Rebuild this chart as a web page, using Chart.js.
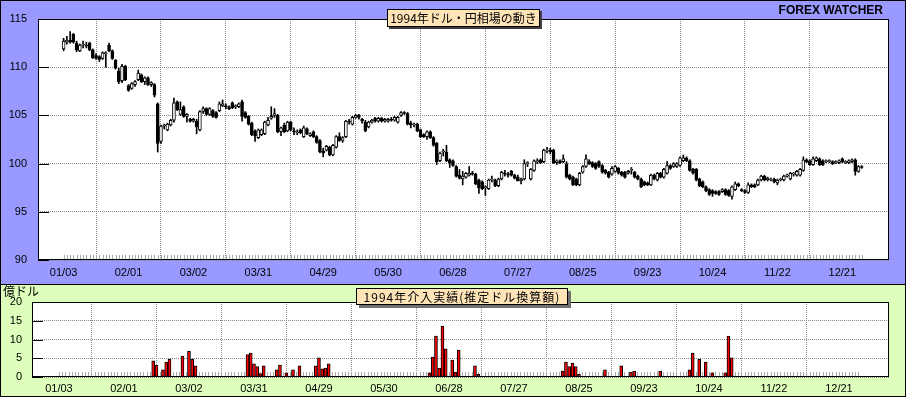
<!DOCTYPE html>
<html>
<head>
<meta charset="utf-8">
<script src="https://cdn.jsdelivr.net/npm/chart.js@4.4.0/dist/chart.umd.min.js"></script>
<style>
  body { margin: 0; width: 906px; height: 397px; overflow: hidden; position: relative; }
  .panel { position: absolute; left: 0; width: 906px; box-sizing: border-box; border: 1px solid #000; }
  #topPanel { top: 0; height: 285px; background: #9999ff; }
  #bottomPanel { top: 284px; height: 113px; background: #ddffbb; }
  canvas { position: absolute; left: 0; }
  .titlebox {
    position: absolute; box-sizing: border-box; border: 1px solid #000; background: #ffe4b8;
    font-family: "Noto Sans CJK JP", "Liberation Sans", sans-serif; font-size: 12px; color: #000;
    text-align: center; white-space: nowrap; z-index: 2;
  }
  #title1 { left: 387px; top: 9px; width: 153px; height: 18px; line-height: 16px; box-shadow: 2px 2px 0 #404040; }
  #title2 { left: 356px; top: 288px; width: 212px; height: 17px; line-height: 15px; letter-spacing: 1px; box-shadow: 3px 3px 0 #707070; }
  #brand { position: absolute; right: 23px; top: 3px; font: bold 12px "Liberation Sans", Arial, sans-serif; z-index: 2; }
  #unit { position: absolute; left: 3px; top: 282px; font: 12px "Noto Sans CJK JP", sans-serif; z-index: 2; }
</style>
</head>
<body>
<div class="panel" id="topPanel"></div>
<div class="panel" id="bottomPanel"></div>
<canvas id="priceChart" width="906" height="285" style="top:0"></canvas>
<canvas id="interChart" width="906" height="112" style="top:285px"></canvas>
<div class="titlebox" id="title1">1994年ドル・円相場の動き</div>
<div class="titlebox" id="title2">1994年介入実績(推定ドル換算額)</div>
<div id="brand">FOREX WATCHER</div>
<div id="unit">億ドル</div>
<script>
// 1994年 日次四本値 (営業日 0〜246)
const open = [
  111.9,112.6,112.8,113.4,112.5,111.7,112.3,112.3,112.5,111.8,
  111.2,111.1,110.9,111.4,112.3,111.7,110.7,109.6,108.6,110.1,
  108.1,107.8,108.2,108.7,109.2,108.5,108.9,108.2,108.2,106.2,
  102.3,103.9,103.5,104.0,104.5,106.4,105.1,105.9,104.9,104.6,
  104.4,104.4,103.5,105.4,105.7,105.1,105.5,105.3,105.5,106.0,
  106.0,105.9,106.3,105.9,105.9,106.4,105.3,104.9,104.2,103.4,
  102.7,103.0,103.1,104.0,104.7,105.0,105.0,103.3,104.0,103.4,
  104.3,103.4,103.2,103.5,102.8,103.6,102.9,103.3,102.8,102.4,
  101.3,101.4,101.7,100.9,101.7,102.8,102.4,102.8,104.4,104.1,
  104.8,105.0,104.6,104.3,103.8,104.3,104.7,104.4,104.7,104.4,
  104.4,104.6,104.5,104.3,105.0,105.3,105.2,104.2,104.0,104.1,
  103.5,103.0,102.8,103.3,102.7,102.1,100.3,101.2,101.2,100.4,
  100.3,99.7,98.8,98.4,98.6,98.8,99.0,98.9,98.3,98.1,
  97.5,97.4,98.3,98.3,97.7,98.4,99.0,98.9,99.2,98.8,
  98.6,98.2,98.4,100.0,98.4,99.3,100.2,100.4,100.2,101.3,
  101.4,101.4,100.1,100.3,100.2,100.0,98.8,98.6,98.4,97.8,
  99.1,99.7,100.2,100.1,100.0,100.2,99.8,99.3,99.1,98.9,
  99.2,99.5,99.1,99.1,99.0,99.3,99.1,98.7,98.4,98.1,
  98.0,97.8,98.8,98.3,99.0,98.6,99.0,99.8,99.7,99.7,
  99.8,100.3,100.6,100.3,99.4,99.4,98.4,98.1,97.6,97.3,
  97.2,97.1,97.1,97.1,97.3,97.2,96.6,97.3,97.9,97.3,
  97.2,97.0,97.8,97.8,97.8,98.3,98.7,98.3,98.3,98.4,
  98.0,98.3,98.3,98.7,98.4,98.9,98.8,98.8,99.3,100.4,
  100.3,99.9,100.3,100.5,100.3,100.2,100.2,100.2,100.1,100.1,
  100.5,100.1,100.1,100.2,100.4,99.2,99.7
];
const high = [
  113.0,113.2,113.7,113.5,112.7,112.4,112.7,112.6,112.6,111.9,
  111.4,111.2,111.6,111.6,112.5,111.8,110.8,109.9,110.3,110.2,
  108.2,108.4,108.6,109.7,109.3,109.0,109.0,108.5,108.3,106.3,
  104.0,104.1,104.2,104.6,106.8,106.5,106.4,106.0,105.2,104.7,
  104.7,104.6,105.5,105.9,105.8,105.8,105.6,105.4,106.4,106.6,
  106.2,106.0,106.4,106.1,106.3,106.6,105.4,105.0,104.3,103.5,
  103.6,103.6,104.4,104.8,105.9,105.7,105.1,103.8,104.2,104.4,
  104.4,103.7,103.5,103.6,103.9,103.7,103.2,103.4,102.9,102.5,
  101.6,101.9,101.8,102.0,102.9,103.2,102.8,104.5,104.6,104.9,
  105.1,105.1,104.7,104.5,104.4,104.6,104.8,104.8,104.8,104.7,
  104.7,104.8,104.9,104.9,105.4,105.4,105.3,104.4,104.2,104.2,
  103.6,103.1,103.4,103.4,102.8,102.2,101.2,101.5,101.9,100.5,
  100.4,99.8,99.4,99.2,99.1,99.7,99.2,99.0,98.4,98.2,
  97.7,98.4,98.7,98.4,98.5,99.2,99.3,99.1,99.3,98.9,
  98.8,98.5,100.4,100.2,99.5,100.4,100.5,100.5,101.5,101.7,
  101.6,101.5,100.4,100.4,100.9,100.2,98.9,98.7,98.5,99.1,
  99.8,100.9,100.4,100.2,100.1,100.3,99.9,99.4,99.2,99.7,
  99.8,99.6,99.2,99.2,99.3,99.6,99.2,98.8,98.5,98.2,
  98.1,98.9,98.9,99.1,99.1,99.5,100.2,99.9,100.1,100.1,
  100.7,100.9,100.7,100.4,99.5,99.5,98.5,98.2,97.7,97.4,
  97.3,97.2,97.2,97.4,97.4,97.3,97.7,98.1,98.0,97.4,
  97.3,98.0,97.9,97.9,98.4,98.8,98.8,98.6,98.5,98.5,
  98.4,98.5,98.8,98.9,99.1,99.1,99.3,99.5,100.7,100.5,
  100.4,100.7,100.7,100.6,100.4,100.4,100.4,100.3,100.3,100.4,
  100.6,100.3,100.4,100.5,100.5,99.8,99.8
];
const low = [
  111.7,112.4,112.5,112.5,111.6,111.6,112.0,112.0,111.7,110.9,
  110.8,110.6,110.8,110.0,111.6,110.8,109.8,108.3,108.4,108.6,
  107.5,107.7,108.0,108.6,108.4,108.2,108.1,108.0,106.9,101.2,
  102.1,103.6,103.4,103.9,104.3,105.5,105.0,104.8,104.3,104.3,
  104.3,103.1,103.4,105.2,105.0,105.0,104.8,104.7,105.4,105.9,
  105.7,105.6,105.7,105.7,105.8,104.4,104.7,104.0,102.9,102.3,
  102.6,102.9,103.0,103.9,104.6,104.8,103.2,102.9,103.2,103.3,
  103.4,103.0,103.0,103.1,102.7,103.0,102.8,102.7,102.1,101.1,
  100.7,101.3,100.8,100.8,101.6,102.3,102.2,102.7,104.1,104.0,
  104.7,104.6,104.2,103.3,103.7,104.2,104.3,104.3,104.3,104.3,
  104.3,104.4,104.4,104.2,104.9,105.1,104.0,103.7,103.8,103.3,
  102.7,102.7,102.5,102.6,101.8,99.9,100.2,100.8,100.2,99.6,
  99.7,98.6,98.4,97.8,98.5,98.7,98.8,97.8,96.9,97.3,
  96.7,97.3,98.1,97.6,97.6,98.3,98.7,98.6,98.7,98.4,
  98.2,97.9,98.3,99.7,98.3,99.2,100.0,100.0,100.1,101.1,
  101.0,100.0,99.9,100.0,100.1,98.5,98.3,97.7,97.7,97.7,
  99.0,99.6,99.9,99.6,99.4,99.6,99.0,98.9,98.5,98.8,
  99.1,98.9,98.7,98.5,98.9,98.9,98.5,98.3,97.5,97.7,
  97.7,97.7,98.3,98.2,98.5,98.5,98.9,99.4,99.6,99.6,
  99.7,100.2,100.2,99.2,98.9,98.2,97.6,97.5,97.1,96.7,
  96.6,96.8,96.7,97.0,96.7,96.6,96.3,97.2,97.6,97.1,
  96.9,96.9,97.5,97.5,97.7,98.2,98.2,98.2,98.2,98.0,
  97.8,98.2,98.2,98.6,98.3,98.7,98.7,98.7,99.2,100.1,
  99.8,99.8,100.2,99.8,99.8,100.1,100.1,99.9,100.0,100.0,
  100.1,100.0,100.0,100.1,98.8,99.1,99.5
];
const close = [
  112.7,112.8,112.6,112.6,111.8,112.3,112.4,112.2,111.8,111.0,
  110.9,110.8,111.5,111.5,111.7,110.9,109.9,108.5,110.1,108.7,
  107.6,108.3,108.5,109.4,108.5,108.9,108.2,108.4,107.1,102.1,
  103.9,104.0,104.1,104.5,106.3,105.6,105.6,104.9,105.1,104.4,
  104.6,103.8,105.4,105.7,105.1,105.7,104.9,104.8,106.2,106.2,
  105.9,105.7,105.8,106.0,106.2,104.9,104.8,104.1,103.0,102.9,
  103.5,103.5,104.3,104.5,104.9,105.2,103.3,103.7,103.3,104.3,
  103.5,103.3,103.3,103.2,103.7,103.1,103.1,102.8,102.2,101.2,
  101.1,101.8,100.9,101.9,102.8,102.4,102.7,104.4,104.3,104.8,
  105.0,104.8,104.4,103.4,104.3,104.5,104.4,104.7,104.4,104.6,
  104.6,104.5,104.8,104.8,105.3,105.2,104.1,104.0,104.1,103.4,
  102.8,102.8,103.3,102.7,101.9,100.2,101.1,101.3,100.3,100.1,
  99.8,98.7,98.5,98.7,99.0,99.0,98.9,97.9,97.5,97.4,
  97.6,98.3,98.4,97.7,98.4,99.1,98.9,98.8,98.8,98.5,
  98.2,98.4,100.0,100.1,99.4,100.3,100.3,100.1,101.4,101.4,
  101.2,100.1,100.3,100.1,100.5,98.6,98.4,97.8,97.8,99.0,
  99.7,100.5,100.0,99.7,99.5,99.7,99.1,99.0,98.6,99.5,
  99.7,99.0,98.8,98.6,99.2,99.3,98.6,98.4,97.6,97.8,
  97.8,98.8,98.4,99.0,98.6,99.4,99.8,99.5,100.0,100.0,
  100.6,100.6,100.3,99.3,99.0,98.3,97.7,97.6,97.2,96.8,
  96.9,96.9,96.8,97.3,96.8,96.7,97.6,97.9,97.7,97.2,
  97.0,97.8,97.6,97.6,98.3,98.7,98.3,98.5,98.4,98.1,
  98.3,98.4,98.7,98.8,99.0,99.0,99.2,99.4,100.4,100.2,
  99.9,100.5,100.6,99.9,99.9,100.3,100.3,100.0,100.2,100.3,
  100.2,100.2,100.3,100.4,99.2,99.7,99.6
];

// 目盛り
const tickDays = [0, 20, 40, 60, 80, 100, 120, 140, 160, 180, 200, 220, 240];
const tickLabels = ['01/03', '02/01', '03/02', '03/31', '04/29', '05/30', '06/28', '07/27', '08/25', '09/23', '10/24', '11/22', '12/21'];
const priceTicks = [90, 95, 100, 105, 110, 115];
const amountTicks = [0, 5, 10, 15, 20];

// 介入実績 (営業日, 億ドル)
const interDays = [29, 30, 32, 33, 34, 38, 40, 41, 42,
  58, 59, 60, 61, 62, 63, 67, 68, 70, 72, 74,
  79, 80, 81, 82, 83,
  114, 115, 116, 117, 118, 119, 121, 122, 123, 128, 129,
  155, 156, 157, 158, 159, 160, 168, 173, 176, 177, 185,
  194, 195, 197, 199, 201, 205, 206, 207];
const interAmounts = [4.3, 3.2, 1.9, 4.0, 4.8, 5.6, 6.9, 4.8, 3.0,
  6.0, 6.4, 3.5, 2.8, 0.9, 3.0, 1.9, 3.2, 1.1, 1.9, 3.0,
  3.0, 5.1, 2.2, 2.4, 3.5,
  1.1, 5.3, 10.9, 2.4, 13.6, 7.5, 4.5, 1.3, 7.2, 3.0, 0.7,
  1.6, 4.0, 2.8, 3.7, 2.8, 0.7, 1.9, 3.0, 1.3, 1.6, 1.6,
  1.9, 6.4, 4.8, 4.0, 1.1, 1.1, 10.9, 5.1];

if (open.length !== high.length || open.length !== low.length || open.length !== close.length) {
  throw new Error('length mismatch ' + [open.length, high.length, low.length, close.length].join(','));
}

Chart.defaults.font.family = '"Liberation Sans", Arial, sans-serif';
Chart.defaults.font.size = 11;
Chart.defaults.color = '#000';

const days = open.map((_, i) => i);

// 白い描画領域、日付目盛り、左の短い目盛り、枠
const panelPlugin = {
  id: 'panel',
  beforeDraw(chart) {
    const { ctx, chartArea: a } = chart;
    ctx.save();
    ctx.fillStyle = '#fff';
    ctx.fillRect(a.left, a.top, a.right - a.left, a.bottom - a.top);
    ctx.restore();
  },
  beforeDatasetsDraw(chart) {
    const { ctx, chartArea: a, scales } = chart;
    ctx.save();
    ctx.lineWidth = 1;
    ctx.setLineDash([]);
    ctx.strokeStyle = '#a8a8a8';
    ctx.beginPath();
    days.forEach(d => {
      const px = Math.round(scales.x.getPixelForValue(d)) + 0.5;
      ctx.moveTo(px, a.bottom - 5);
      ctx.lineTo(px, a.bottom);
    });
    ctx.stroke();
    ctx.strokeStyle = '#000';
    ctx.beginPath();
    scales.y.ticks.forEach(t => {
      const py = Math.round(scales.y.getPixelForValue(t.value)) + 0.5;
      ctx.moveTo(a.left, py);
      ctx.lineTo(a.left + 11, py);
    });
    ctx.stroke();
    ctx.restore();
  },
  afterDraw(chart) {
    const { ctx, chartArea: a } = chart;
    ctx.save();
    ctx.setLineDash([]);
    ctx.strokeStyle = '#000';
    ctx.lineWidth = 1;
    ctx.strokeRect(Math.round(a.left) + 0.5, Math.round(a.top) + 0.5,
      Math.round(a.right - a.left) - 1, Math.round(a.bottom - a.top) - 1);
    ctx.restore();
  }
};

const gridColor = c => (c.tick && tickDays.includes(c.tick.value)) ? '#888' : 'rgba(0,0,0,0)';

function xScale(min, max, height, pad) {
  return {
    type: 'linear', min: min, max: max, offset: false,
    afterBuildTicks: s => { s.ticks = tickDays.map(v => ({ value: v })); },
    afterFit: s => { s.height = height; },
    ticks: { callback: (v, i) => tickLabels[i], autoSkip: false, maxRotation: 0, padding: pad },
    grid: { color: gridColor, drawTicks: false },
    border: { display: false, dash: [1, 1] }
  };
}

function yScale(min, max, values, width, pad) {
  return {
    min: min, max: max,
    afterBuildTicks: s => { s.ticks = values.map(v => ({ value: v })); },
    afterFit: s => { s.width = width; },
    ticks: { padding: pad },
    grid: { color: '#888', drawTicks: false },
    border: { display: false, dash: [1, 1] }
  };
}

new Chart(document.getElementById('priceChart'), {
  type: 'bar',
  data: {
    datasets: [
      {
        data: days.map(i => ({ x: i, y: [low[i], high[i]] })),
        backgroundColor: '#000',
        borderWidth: 0,
        barThickness: 1,
        grouped: false,
        order: 2
      },
      {
        data: days.map(i => ({ x: i, y: [open[i], close[i]] })),
        backgroundColor: ctx => (ctx.raw && ctx.raw.y[1] >= ctx.raw.y[0]) ? '#fff' : '#000',
        borderColor: '#000',
        borderWidth: 1,
        borderSkipped: false,
        barThickness: 3,
        minBarLength: 1,
        grouped: false,
        order: 1
      }
    ]
  },
  options: {
    responsive: false,
    animation: false,
    events: [],
    layout: { padding: { top: 19, right: 17, left: 0, bottom: 0 } },
    scales: {
      x: xScale(-7.9, 254.4, 25, 6),
      y: yScale(90, 115, priceTicks, 38, 11)
    },
    plugins: { legend: { display: false }, tooltip: { enabled: false } }
  },
  plugins: [panelPlugin]
});

new Chart(document.getElementById('interChart'), {
  type: 'bar',
  data: {
    datasets: [{
      data: interDays.map((d, i) => ({ x: d, y: interAmounts[i] })),
      backgroundColor: '#ff0000',
      borderColor: '#000',
      borderWidth: 1,
      borderSkipped: false,
      barThickness: 3
    }]
  },
  options: {
    responsive: false,
    animation: false,
    events: [],
    layout: { padding: { top: 17, right: 17, left: 0, bottom: 0 } },
    scales: {
      x: xScale(-8.3, 255.4, 20, 5),
      y: yScale(0, 20, amountTicks, 32, 10)
    },
    plugins: { legend: { display: false }, tooltip: { enabled: false } }
  },
  plugins: [panelPlugin]
});
</script>
</body>
</html>
